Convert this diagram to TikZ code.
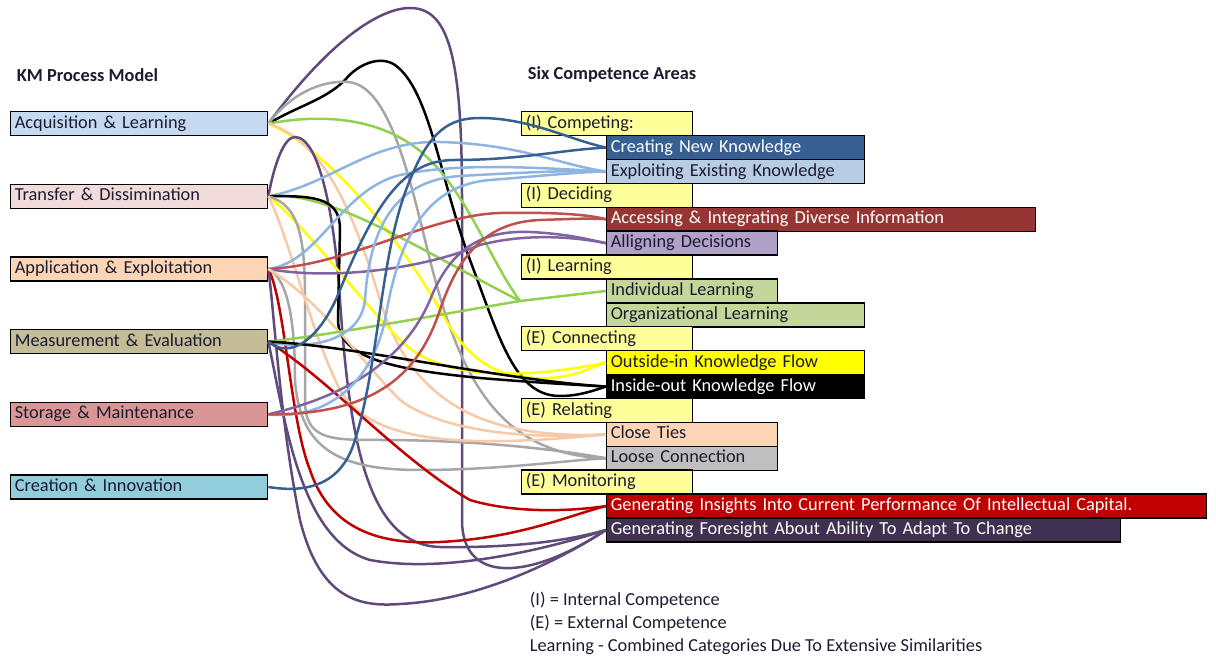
\documentclass[tikz,border=0pt]{standalone}
\usepackage{fontspec}
\setmainfont{Carlito}
\usepackage{tikz}
\usetikzlibrary{positioning}
% box fills
\definecolor{acqfill}{HTML}{C5D9F1}
\definecolor{tranfill}{HTML}{F2DCDB}
\definecolor{applfill}{HTML}{FCD5B4}
\definecolor{measfill}{HTML}{C4BD97}
\definecolor{storfill}{HTML}{DA9694}
\definecolor{creafill}{HTML}{92CDDC}
\definecolor{catfill}{HTML}{FFFF99}
\definecolor{newfill}{HTML}{366092}
\definecolor{expfill}{HTML}{B8CCE4}
\definecolor{accfill}{HTML}{963634}
\definecolor{algfill}{HTML}{B1A0C7}
\definecolor{lrnfill}{HTML}{C4D79B}
\definecolor{tiefill}{HTML}{FCD5B4}
\definecolor{loofill}{HTML}{BFBFBF}
\definecolor{insfill}{HTML}{C00000}
\definecolor{forfill}{HTML}{403151}
\definecolor{txtdark}{HTML}{1C1C30}
% line colours
\definecolor{lnpurple}{HTML}{604A7B}
\definecolor{lnlilac}{HTML}{8064A2}
\definecolor{lnbrown}{HTML}{C0504D}
\definecolor{lnlblue}{HTML}{8DB4E2}
\definecolor{lndblue}{HTML}{366092}
\definecolor{lngreen}{HTML}{92D050}
\definecolor{lnyellow}{HTML}{FFFF00}
\definecolor{lnpeach}{HTML}{F8C9A6}
\definecolor{lngray}{HTML}{A6A6A6}
\definecolor{lnred}{HTML}{C00000}

\begin{document}
\begin{tikzpicture}[x=0.6pt,y=-0.6pt,font=\fontsize{11}{13}\selectfont]
	\tikzset{kmbox/.style={draw=black, line width=0.8pt, anchor=north west, minimum height=14.4pt, inner xsep=2.5pt, inner ysep=0pt, text height=8pt, text depth=2.5pt, align=left, text=txtdark, text width=#1}}
	\tikzset{catbox/.style={kmbox=97.6pt, fill=catfill}}
	\tikzset{link/.style={line width=1.5pt}}
	\useasboundingbox (0,0) rectangle (1216,660);
	% titles
	\node[anchor=west, font=\fontsize{11}{13}\selectfont\bfseries, text=txtdark] (kmtitle) at (11,75) {KM Process Model};
	\node[anchor=west, font=\fontsize{11}{13}\selectfont\bfseries, text=txtdark] (sixtitle) at (522,75) {Six Competence Areas};
	% KM process boxes
	\node[kmbox=149.2pt, fill=acqfill] (acq) at (10,111) {Acquisition \& Learning};
	\node[kmbox=149.2pt, fill=tranfill, below=28.4pt of acq] (trans) {Transfer \& Dissimination};
	\node[kmbox=149.2pt, fill=applfill, below=28.4pt of trans] (appl) {Application \& Exploitation};
	\node[kmbox=149.2pt, fill=measfill, below=28.4pt of appl] (meas) {Measurement \& Evaluation};
	\node[kmbox=149.2pt, fill=storfill, below=28.4pt of meas] (stor) {Storage \& Maintenance};
	\node[kmbox=149.2pt, fill=creafill, below=28.4pt of stor] (crea) {Creation \& Innovation};
	% competence areas
	\node[catbox] (comp) at (521,111) {(I) Competing:};
	\node[kmbox=149.8pt, fill=newfill, text=white] (cnew) at (606,134.9) {Creating New Knowledge};
	\node[kmbox=149.8pt, fill=expfill] (cexp) at (606,158.8) {Exploiting Existing Knowledge};
	\node[catbox] (deci) at (521,182.7) {(I) Deciding};
	\node[kmbox=252.4pt, fill=accfill, text=white] (cacc) at (606,206.6) {Accessing \& Integrating Diverse Information};
	\node[kmbox=97.6pt, fill=algfill] (calg) at (606,230.5) {Alligning Decisions};
	\node[catbox] (lear) at (521,254.4) {(I) Learning};
	\node[kmbox=97.6pt, fill=lrnfill] (cind) at (606,278.3) {Individual Learning};
	\node[kmbox=149.8pt, fill=lrnfill] (corg) at (606,302.2) {Organizational Learning};
	\node[catbox] (conn) at (521,326.1) {(E) Connecting};
	\node[kmbox=149.8pt, fill=lnyellow] (cout) at (606,350) {Outside-in Knowledge Flow};
	\node[kmbox=149.8pt, fill=black, text=white] (cin) at (606,373.9) {Inside-out Knowledge Flow};
	\node[catbox] (rela) at (521,397.8) {(E) Relating};
	\node[kmbox=97.6pt, fill=tiefill] (ctie) at (606,421.7) {Close Ties};
	\node[kmbox=97.6pt, fill=loofill] (cloo) at (606,445.6) {Loose Connection};
	\node[catbox] (moni) at (521,469.5) {(E) Monitoring};
	\node[kmbox=355pt, fill=insfill, text=white] (cins) at (606,493.4) {Generating Insights Into Current Performance Of Intellectual Capital.};
	\node[kmbox=303.4pt, fill=forfill, text=white] (cfor) at (606,517.3) {Generating Foresight About Ability To Adapt To Change};
	% legend
	\node[anchor=west, text=txtdark] (legi) at (524,600) {(I) = Internal Competence};
	\node[anchor=west, text=txtdark] (lege) at (524,623.5) {(E) = External Competence};
	\node[anchor=west, text=txtdark] (legl) at (524,647) {Learning - Combined Categories Due To Extensive Similarities};
	\coordinate (lrn) at (520,301);

	% from Acquisition & Learning
	\draw[link, lnpurple] (acq.east) .. controls (330,40) and (380,8) .. (410,8) .. controls (450,8) and (462,60) .. (462,200) -- (462,520) .. controls (462,585) and (530,580) .. (cfor.west);
	\draw[link, black] (acq.east) .. controls (300,105) and (325,100) .. (345,80) .. controls (358,64) and (380,55) .. (395,65) .. controls (430,90) and (440,180) .. (470,260) .. controls (500,340) and (515,396) .. (560,396) .. controls (580,396) and (595,390) .. (cin.west);
	\draw[link, lngray] (acq.east) .. controls (290,95) and (320,80) .. (348,82) .. controls (390,85) and (410,180) .. (430,260) .. controls (460,380) and (500,455) .. (cloo.west);
	\draw[link, lngreen] (acq.east) .. controls (330,112) and (390,120) .. (430,160) .. controls (470,200) and (490,260) .. (lrn);
	\draw[link, lnyellow] (acq.east) .. controls (330,150) and (400,240) .. (440,310) .. controls (470,365) and (500,380) .. (550,378) .. controls (580,376) and (595,365) .. (cout.west);
	\draw[link, lnpeach] (acq.east) .. controls (320,140) and (350,200) .. (380,300) .. controls (410,400) and (480,440) .. (ctie.west);
	% from Transfer & Dissimination
	\draw[link, lnpurple] (trans.east) .. controls (275,160) and (285,137) .. (295,137) .. controls (320,137) and (335,220) .. (340,300) .. controls (350,450) and (370,545) .. (440,547) .. controls (520,548) and (570,540) .. (cfor.west);
	\draw[link, lnlblue] (trans.east) .. controls (330,185) and (370,140) .. (440,142) .. controls (520,144) and (560,165) .. (cexp.west);
	\draw[link, lngreen] (trans.east) .. controls (330,190) and (420,250) .. (lrn);
	\draw[link, black] (trans.east) .. controls (320,195) and (340,200) .. (340,230) -- (338,320) .. controls (338,360) and (400,370) .. (480,378) .. controls (540,383) and (580,385) .. (cin.west);
	\draw[link, lnyellow] (trans.east) .. controls (300,220) and (360,300) .. (400,340) .. controls (440,380) and (520,380) .. (cout.west);
	\draw[link, lngray] (trans.east) .. controls (300,205) and (305,240) .. (305,300) -- (305,400) .. controls (305,440) and (330,440) .. (380,440) .. controls (480,440) and (560,450) .. (cloo.west);
	\draw[link, lnpeach] (trans.east) .. controls (290,240) and (310,330) .. (340,390) .. controls (370,440) and (450,450) .. (ctie.west);
	% from Application & Exploitation
	\draw[link, lnlblue] (appl.east) .. controls (320,262) and (340,190) .. (400,175) .. controls (460,162) and (540,168) .. (cexp.west);
	\draw[link, lnbrown] (appl.east) .. controls (350,265) and (430,215) .. (500,213) .. controls (560,212) and (590,215) .. (cacc.west);
	\draw[link, lnlilac] (appl.east) .. controls (330,280) and (420,270) .. (480,245) .. controls (530,232) and (580,238) .. (calg.west);
	\draw[link, lnred] (appl.east) .. controls (285,300) and (290,420) .. (310,470) .. controls (330,530) and (380,545) .. (440,542) .. controls (520,538) and (570,515) .. (cins.west);
	\draw[link, lnpurple] (appl.east) .. controls (275,320) and (280,420) .. (300,520) .. controls (320,600) and (360,607) .. (400,604) .. controls (480,600) and (560,560) .. (cfor.west);
	\draw[link, lngray] (appl.east) .. controls (290,280) and (295,330) .. (295,380) .. controls (300,450) and (340,470) .. (420,470) .. controls (500,470) and (570,460) .. (cloo.west);
	\draw[link, lnpeach] (appl.east) .. controls (320,300) and (360,360) .. (400,400) .. controls (440,430) and (520,440) .. (ctie.west);
	% from Measurement & Evaluation
	\draw[link, lngreen] (meas.east) .. controls (330,335) and (420,318) .. (lrn);
	\draw[link, lnlblue] (meas.east) .. controls (300,350) and (360,345) .. (365,300) .. controls (370,220) and (400,180) .. (460,176) .. controls (530,172) and (580,170) .. (cexp.west);
	\draw[link, black] (meas.east) .. controls (350,345) and (500,380) .. (cin.west);
	\draw[link, lnred] (meas.east) .. controls (330,380) and (400,460) .. (470,500) .. controls (520,515) and (580,510) .. (cins.west);
	\draw[link, lnpurple] (meas.east) .. controls (285,420) and (300,540) .. (370,560) .. controls (450,575) and (560,545) .. (cfor.west);
	\draw[link, lndblue] (meas.east) .. controls (290,360) and (320,340) .. (340,290) .. controls (380,190) and (410,160) .. (455,160) .. controls (520,160) and (560,150) .. (cnew.west);
	% from Storage & Maintenance
	\draw[link, lnlilac] (stor.east) .. controls (330,400) and (400,370) .. (430,300) .. controls (450,250) and (480,230) .. (530,232) .. controls (570,234) and (590,240) .. (calg.west);
	\draw[link, lnlblue] (stor.east) .. controls (320,420) and (370,390) .. (385,320) .. controls (400,230) and (430,185) .. (490,180) .. controls (540,176) and (580,172) .. (cexp.west);
	\draw[link, lnbrown] (stor.east) .. controls (380,415) and (420,370) .. (440,310) .. controls (460,250) and (490,222) .. (540,220) .. controls (570,219) and (590,218) .. (cacc.west);
	% from Creation & Innovation
	\draw[link, lndblue] (crea.east) .. controls (300,492) and (340,490) .. (355,440) .. controls (380,360) and (380,250) .. (410,180) .. controls (430,130) and (450,118) .. (480,118) .. controls (530,118) and (570,140) .. (cnew.west);
	% combined learning
	\draw[link, lngreen] (lrn) -- (cind.west);
\end{tikzpicture}
\end{document}
